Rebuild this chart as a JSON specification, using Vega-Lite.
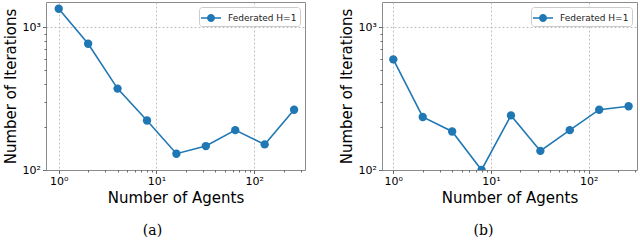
{
  "$schema": "https://vega.github.io/schema/vega-lite/v6.json",
  "background": "white",
  "padding": {"left": 2, "top": 1, "right": 2, "bottom": 0},
  "spacing": 32,
  "resolve": {"scale": {"color": "independent"}, "legend": {"color": "independent"}},
  "datasets": {
    "a": [
      {"agents": 1, "iterations": 1343, "series": "Federated H=1"},
      {"agents": 2, "iterations": 764, "series": "Federated H=1"},
      {"agents": 4, "iterations": 371, "series": "Federated H=1"},
      {"agents": 8, "iterations": 222, "series": "Federated H=1"},
      {"agents": 16, "iterations": 130, "series": "Federated H=1"},
      {"agents": 32, "iterations": 147, "series": "Federated H=1"},
      {"agents": 64, "iterations": 190, "series": "Federated H=1"},
      {"agents": 128, "iterations": 151, "series": "Federated H=1"},
      {"agents": 256, "iterations": 264, "series": "Federated H=1"}
    ],
    "b": [
      {"agents": 1, "iterations": 594, "series": "Federated H=1"},
      {"agents": 2, "iterations": 235, "series": "Federated H=1"},
      {"agents": 4, "iterations": 186, "series": "Federated H=1"},
      {"agents": 8, "iterations": 100, "series": "Federated H=1"},
      {"agents": 16, "iterations": 241, "series": "Federated H=1"},
      {"agents": 32, "iterations": 136, "series": "Federated H=1"},
      {"agents": 64, "iterations": 190, "series": "Federated H=1"},
      {"agents": 128, "iterations": 264, "series": "Federated H=1"},
      {"agents": 256, "iterations": 279, "series": "Federated H=1"}
    ]
  },
  "config": {
    "font": "DejaVu Sans",
    "view": {"stroke": "#8c8c8c", "strokeWidth": 1},
    "axis": {
      "labelFont": "DejaVu Sans",
      "labelFontSize": 11,
      "labelColor": "#000000",
      "titleFont": "DejaVu Sans",
      "titleFontSize": 15,
      "titleFontWeight": "normal",
      "titleColor": "#000000",
      "domain": false,
      "tickColor": "#444444",
      "tickWidth": 0.8,
      "labelPadding": 2,
      "gridColor": "#b0b0b0",
      "gridDash": [2, 2],
      "gridWidth": 0.8
    },
    "title": {
      "font": "DejaVu Serif",
      "fontSize": 14,
      "fontWeight": "normal",
      "color": "#000000",
      "orient": "bottom",
      "offset": 18
    },
    "legend": {
      "orient": "top-right",
      "offset": 5,
      "fillColor": "white",
      "strokeColor": "#cccccc",
      "cornerRadius": 3,
      "padding": 3,
      "labelFont": "DejaVu Sans",
      "labelFontSize": 9,
      "labelColor": "#222222",
      "title": null,
      "symbolType": "M-1.25,-0.094L1.25,-0.094L1.25,0.094L-1.25,0.094Z M0.5,0A0.5,0.5 0 1,1 -0.5,0A0.5,0.5 0 1,1 0.5,0Z",
      "symbolSize": 256,
      "symbolOffset": 1,
      "labelOffset": 9
    }
  },
  "hconcat": [
    {
      "width": 259,
      "height": 168,
      "data": {"name": "a"},
      "title": {"text": "(a)", "dx": -23},
      "encoding": {
        "x": {
          "field": "agents", "type": "quantitative",
          "scale": {"type": "log", "domain": [0.741, 331], "nice": false},
          "axis": {
            "title": "Number of Agents",
            "values": [1,2,3,4,5,6,7,8,9,10,20,30,40,50,60,70,80,90,100,200,300],
            "labelExpr": "datum.value == 1 ? '10⁰' : datum.value == 10 ? '10¹' : datum.value == 100 ? '10²' : ''",
            "tickSize": {"condition": {"test": "datum.value == 1 || datum.value == 10 || datum.value == 100", "value": 3.5}, "value": 2},
            "gridOpacity": {"condition": {"test": "datum.value == 1 || datum.value == 10 || datum.value == 100", "value": 1}, "value": 0},
            "titlePadding": 4
          }
        },
        "y": {
          "field": "iterations", "type": "quantitative",
          "scale": {"type": "log", "domain": [100, 1496], "nice": false},
          "axis": {
            "title": "Number of Iterations",
            "values": [100,200,300,400,500,600,700,800,900,1000],
            "labelExpr": "datum.value == 100 ? '10²' : datum.value == 1000 ? '10³' : ''",
            "tickSize": {"condition": {"test": "datum.value == 100 || datum.value == 1000", "value": 3.5}, "value": 2},
            "gridOpacity": {"condition": {"test": "datum.value == 1000", "value": 1}, "value": 0},
            "titlePadding": 4
          }
        },
        "color": {
          "field": "series", "type": "nominal",
          "scale": {"range": ["#1f77b4"]},
          "legend": {"encode": {"symbols": {"update": {"fill": {"value": "#1f77b4"}, "stroke": {"value": "transparent"}, "strokeWidth": {"value": 0}}}}}
        }
      },
      "layer": [
        {"mark": {"type": "line", "strokeWidth": 1.6, "clip": true}},
        {"mark": {"type": "point", "filled": true, "opacity": 1, "size": 70, "clip": true}}
      ]
    },
    {
      "width": 255,
      "height": 168,
      "data": {"name": "b"},
      "title": {"text": "(b)", "dx": -26},
      "encoding": {
        "x": {
          "field": "agents", "type": "quantitative",
          "scale": {"type": "log", "domain": [0.766, 312], "nice": false},
          "axis": {
            "title": "Number of Agents",
            "values": [1,2,3,4,5,6,7,8,9,10,20,30,40,50,60,70,80,90,100,200,300],
            "labelExpr": "datum.value == 1 ? '10⁰' : datum.value == 10 ? '10¹' : datum.value == 100 ? '10²' : ''",
            "tickSize": {"condition": {"test": "datum.value == 1 || datum.value == 10 || datum.value == 100", "value": 3.5}, "value": 2},
            "gridOpacity": {"condition": {"test": "datum.value == 1 || datum.value == 10 || datum.value == 100", "value": 1}, "value": 0},
            "titlePadding": 4
          }
        },
        "y": {
          "field": "iterations", "type": "quantitative",
          "scale": {"type": "log", "domain": [100, 1496], "nice": false},
          "axis": {
            "title": "Number of Iterations",
            "values": [100,200,300,400,500,600,700,800,900,1000],
            "labelExpr": "datum.value == 100 ? '10²' : datum.value == 1000 ? '10³' : ''",
            "tickSize": {"condition": {"test": "datum.value == 100 || datum.value == 1000", "value": 3.5}, "value": 2},
            "gridOpacity": {"condition": {"test": "datum.value == 1000", "value": 1}, "value": 0},
            "titlePadding": 4
          }
        },
        "color": {
          "field": "series", "type": "nominal",
          "scale": {"range": ["#1f77b4"]},
          "legend": {"encode": {"symbols": {"update": {"fill": {"value": "#1f77b4"}, "stroke": {"value": "transparent"}, "strokeWidth": {"value": 0}}}}}
        }
      },
      "layer": [
        {"mark": {"type": "line", "strokeWidth": 1.6, "clip": true}},
        {"mark": {"type": "point", "filled": true, "opacity": 1, "size": 70, "clip": true}}
      ]
    }
  ]
}
